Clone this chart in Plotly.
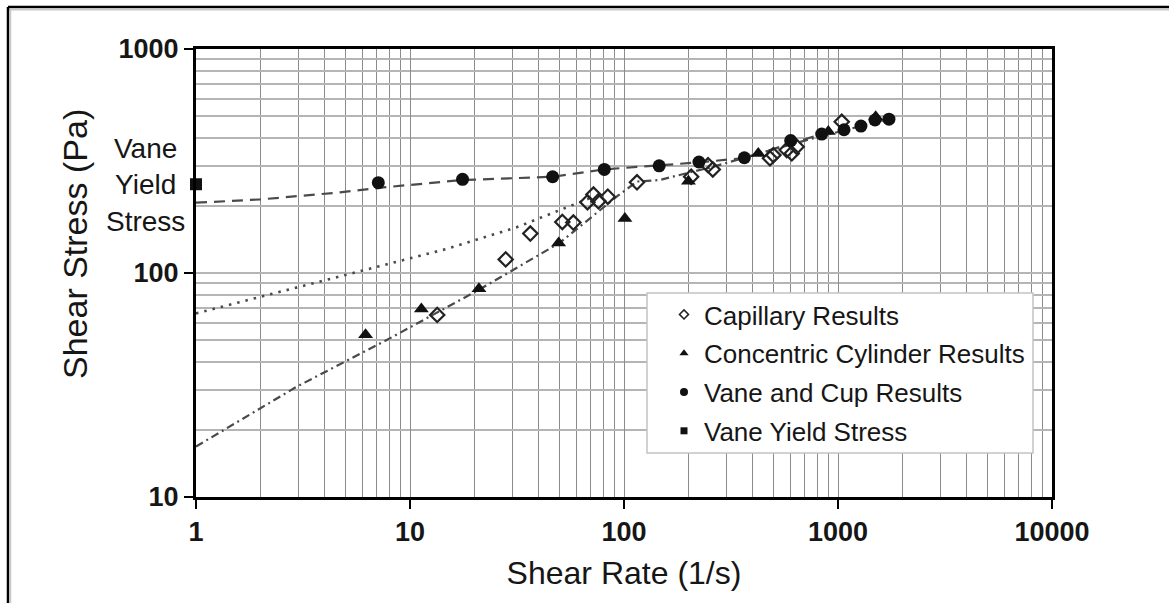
import plotly.graph_objects as go

# Capillary rheometer results (shear rate 1/s, shear stress Pa)
cap_rate = [13.4, 28, 36.5, 51.5, 58, 67.5, 72, 76, 84, 115, 206, 247, 260,
            481, 499, 576, 608, 641, 1041]
cap_stress = [65, 115, 150, 169, 168, 207, 224, 209, 219, 254, 269, 303, 290,
              325, 336, 354, 342, 366, 473]

# Concentric cylinder results
cyl_rate = [6.2, 11.3, 21, 49.5, 101, 200, 424, 901, 1500]
cyl_stress = [53, 69, 85, 136, 175, 257, 342, 428, 499]

# Vane and cup results
vane_rate = [7.11, 17.6, 46.4, 80.9, 146, 224, 365, 601, 839, 1067, 1280, 1489, 1730]
vane_stress = [253, 262, 269, 290, 301, 313, 327, 390, 417, 436, 453, 482, 486]

# Vane yield stress, plotted at the left edge
yield_rate = [1]
yield_stress = [249]

# Fitted model curves (points along each curve)
vane_fit_x = [1, 2, 4.7, 7.5, 17.5, 46.6, 80.6, 146, 226, 364, 716, 841, 1713]
vane_fit_y = [206, 213, 229, 241, 260, 269, 290, 302, 312, 326, 399, 418, 487]
cap_fit_x = [1, 5.24, 14.8, 31.5, 72]
cap_fit_y = [66, 98.7, 128, 160, 219]
cyl_fit_x = [1, 2.96, 7.78, 21.2, 50.2, 92.4, 115, 147, 196, 261, 402, 714, 1713]
cyl_fit_y = [16.8, 31.1, 50.2, 84.6, 136.6, 219, 256, 260, 279, 298, 336, 392, 487]

x_ticks = [1, 10, 100, 1000, 10000]
x_tick_labels = ["1", "10", "100", "1000", "10000"]
y_ticks = [10, 100, 1000]
y_tick_labels = ["10", "100", "1000"]

FONT = "Arial, Liberation Sans, sans-serif"
TXT = "#161616"
LINE_COL = "#4a4a4a"

fig = go.Figure()

# model curves
fig.add_trace(go.Scatter(x=vane_fit_x, y=vane_fit_y, mode="lines", showlegend=False,
                         line=dict(color=LINE_COL, width=2.2, dash="11px,7px")))
fig.add_trace(go.Scatter(x=cap_fit_x, y=cap_fit_y, mode="lines", showlegend=False,
                         line=dict(color=LINE_COL, width=2.6, dash="2.5px,6px")))
fig.add_trace(go.Scatter(x=cyl_fit_x, y=cyl_fit_y, mode="lines", showlegend=False,
                         line=dict(color=LINE_COL, width=2.2, dash="8px,4px,2px,4px")))

# data points
fig.add_trace(go.Scatter(x=cap_rate, y=cap_stress, mode="markers", showlegend=False,
                         marker=dict(symbol="diamond-open", size=11, color="#222",
                                     line=dict(width=2.2, color="#222"))))
fig.add_trace(go.Scatter(x=cyl_rate, y=cyl_stress, mode="markers", showlegend=False,
                         marker=dict(symbol="triangle-up", size=13, color="#111")))
fig.add_trace(go.Scatter(x=vane_rate, y=vane_stress, mode="markers", showlegend=False,
                         marker=dict(symbol="circle", size=13, color="#111")))
fig.add_trace(go.Scatter(x=yield_rate, y=yield_stress, mode="markers", showlegend=False,
                         cliponaxis=False,
                         marker=dict(symbol="square", size=12, color="#111")))

# legend entries with small symbols
legend_items = [
    ("Capillary Results", dict(symbol="diamond-open", size=7, color="#222",
                                line=dict(width=1.5, color="#222"))),
    ("Concentric Cylinder Results", dict(symbol="triangle-up", size=8, color="#111")),
    ("Vane and Cup Results", dict(symbol="circle", size=8, color="#111")),
    ("Vane Yield Stress", dict(symbol="square", size=7, color="#111")),
]
for i, (name, mk) in enumerate(legend_items):
    fig.add_trace(go.Scatter(x=[None], y=[None], mode="markers", name=name, marker=mk,
                             legendgroup=f"g{i}"))

grid_x = "#8c8c8c"
grid_y = "#b5b5b5"

fig.update_xaxes(
    type="log", range=[0, 4],
    tickvals=x_ticks, ticktext=x_tick_labels,
    tickfont=dict(family=FONT, size=27, color=TXT, weight="bold"),
    ticks="outside", ticklen=9, tickwidth=2, tickcolor="#000",
    showgrid=True, gridcolor=grid_x, gridwidth=1.2,
    minor=dict(dtick="D1", showgrid=True, gridcolor=grid_x, gridwidth=1.2, ticks=""),
    showline=True, linecolor="#000", linewidth=3, mirror=True,
    title=dict(text="Shear Rate (1/s)", font=dict(family=FONT, size=32, color=TXT),
               standoff=16),
    zeroline=False,
)
fig.update_yaxes(
    type="log", range=[1, 3],
    tickvals=y_ticks, ticktext=y_tick_labels,
    tickfont=dict(family=FONT, size=27, color=TXT, weight="bold"),
    ticks="outside", ticklen=9, tickwidth=2, tickcolor="#000",
    showgrid=True, gridcolor=grid_y, gridwidth=1.6,
    minor=dict(dtick="D1", showgrid=True, gridcolor=grid_y, gridwidth=1.6, ticks=""),
    showline=True, linecolor="#000", linewidth=3, mirror=True,
    zeroline=False,
)

W, H = 1169, 603
L, R, T, B = 196, 117, 49, 106
pw, ph = W - L - R, H - T - B


def px(x):
    return (x - L) / pw


def py(y):
    return (H - B - y) / ph


shapes = [
    # legend box
    dict(type="rect", xref="paper", yref="paper", layer="above",
         x0=px(647), x1=px(1033), y0=py(453), y1=py(293),
         line=dict(color="#c4c4c4", width=1.5), fillcolor="white"),
    # outer frame
    dict(type="line", xref="paper", yref="paper", x0=px(8), x1=px(1169), y0=py(7), y1=py(7),
         line=dict(color="#000", width=2.5)),
    dict(type="line", xref="paper", yref="paper", x0=px(8), x1=px(1169), y0=py(9.5), y1=py(9.5),
         line=dict(color="#c8c8c8", width=2)),
    dict(type="line", xref="paper", yref="paper", x0=px(8), x1=px(8), y0=py(7), y1=py(603),
         line=dict(color="#000", width=2.5)),
    dict(type="line", xref="paper", yref="paper", x0=px(10.5), x1=px(10.5), y0=py(9), y1=py(603),
         line=dict(color="#c8c8c8", width=1.5)),
]

fig.update_layout(
    width=W, height=H,
    margin=dict(l=L, r=R, t=T, b=B),
    paper_bgcolor="white", plot_bgcolor="white",
    font=dict(family=FONT, color=TXT),
    shapes=shapes,
    showlegend=True,
    legend=dict(x=px(664), y=py(291), xanchor="left", yanchor="top",
                bgcolor="rgba(0,0,0,0)", borderwidth=0,
                font=dict(family=FONT, size=26, color=TXT),
                traceorder="grouped", tracegroupgap=2, itemsizing="trace"),
    annotations=[
        # y-axis title
        dict(text="Shear Stress (Pa)", xref="paper", yref="paper",
             x=px(75), y=py(244), xanchor="center", yanchor="middle",
             textangle=-90, showarrow=False,
             font=dict(family=FONT, size=34, color=TXT)),
        dict(text="Vane<br>Yield<br>Stress", xref="paper", yref="paper",
             x=px(145), y=py(185), xanchor="center", yanchor="middle",
             showarrow=False, align="center",
             font=dict(family=FONT, size=28, color=TXT)),
    ],
)

fig.write_html("out.html")
